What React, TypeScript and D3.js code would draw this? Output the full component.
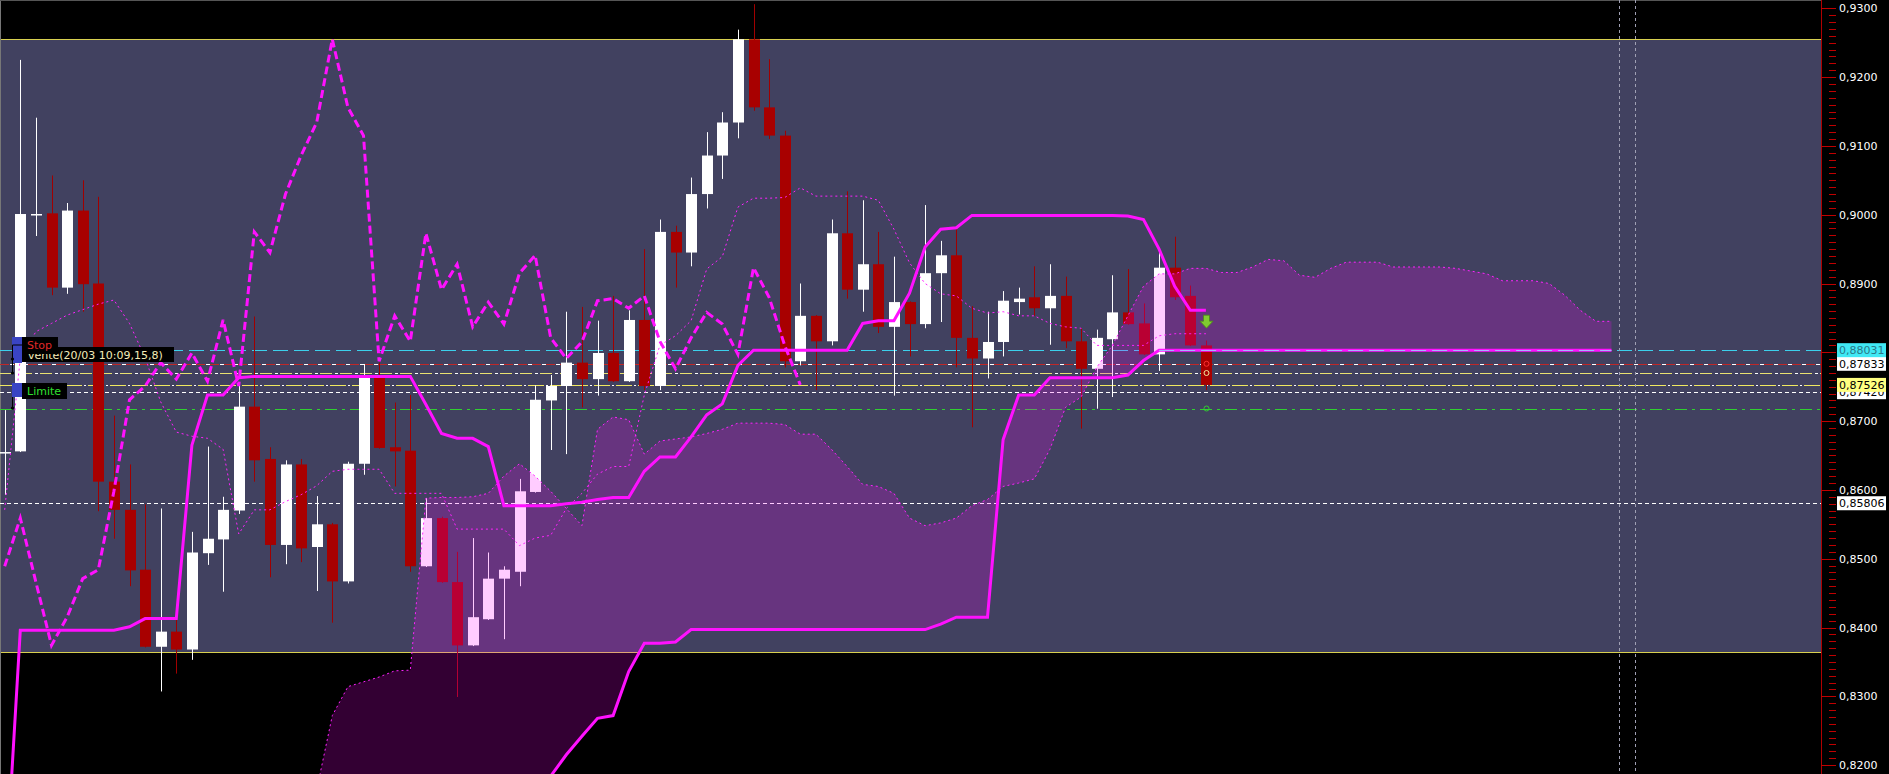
import { useEffect } from 'react';
import * as d3 from 'd3';

const W = 1889;
const H = 774;

// OHLC, one entry per bar (bar 0 is the partly visible one at the left edge)
const opens = [
  0.8654, 0.8656, 0.9000, 0.9002, 0.8894, 0.9006, 0.8900, 0.8612, 0.8571, 0.8484,
  0.8372, 0.8394, 0.8368, 0.8508, 0.8528, 0.8570, 0.8721, 0.8645, 0.8520, 0.8637,
  0.8517, 0.8550, 0.8467, 0.8638, 0.8766, 0.8662, 0.8657, 0.8489, 0.8559, 0.8466,
  0.8374, 0.8412, 0.8471, 0.8481, 0.8597, 0.8730, 0.8751, 0.8785, 0.8761, 0.8799,
  0.8758, 0.8847, 0.8751, 0.8975, 0.8945, 0.9030, 0.9086, 0.9134, 0.9255, 0.9156,
  0.9115, 0.8787, 0.8853, 0.8816, 0.8973, 0.8891, 0.8928, 0.8837, 0.8873, 0.8841,
  0.8915, 0.8941, 0.8821, 0.8791, 0.8815, 0.8873, 0.8880, 0.8864, 0.8882, 0.8816,
  0.8776, 0.8819, 0.8858, 0.8842, 0.8797, 0.8923, 0.8882, 0.8810,
];
const highs = [
  0.8716, 0.9225, 0.9141, 0.9057, 0.9017, 0.9050, 0.9026, 0.8708, 0.8637, 0.8579,
  0.8573, 0.8413, 0.8539, 0.8663, 0.8590, 0.8753, 0.8852, 0.8662, 0.8643, 0.8645,
  0.8591, 0.8552, 0.8641, 0.8783, 0.8785, 0.8727, 0.8738, 0.8588, 0.8561, 0.8510,
  0.8530, 0.8509, 0.8489, 0.8616, 0.8752, 0.8767, 0.8859, 0.8866, 0.8846, 0.8882,
  0.8861, 0.8950, 0.8993, 0.8984, 0.9054, 0.9120, 0.9149, 0.9269, 0.9306, 0.9226,
  0.9122, 0.8900, 0.8854, 0.8993, 0.9034, 0.9021, 0.8975, 0.8939, 0.8874, 0.9014,
  0.8962, 0.8979, 0.8867, 0.8859, 0.8889, 0.8894, 0.8925, 0.8928, 0.8910, 0.8835,
  0.8833, 0.8912, 0.8921, 0.8871, 0.8950, 0.8968, 0.8897, 0.8817,
];
const lows = [
  0.8593, 0.8655, 0.8969, 0.8883, 0.8885, 0.8859, 0.8569, 0.8529, 0.8460, 0.8371,
  0.8307, 0.8333, 0.8353, 0.8491, 0.8452, 0.8565, 0.8612, 0.8473, 0.8492, 0.8495,
  0.8453, 0.8407, 0.8464, 0.8622, 0.8660, 0.8605, 0.8481, 0.8488, 0.8465, 0.8299,
  0.8373, 0.8411, 0.8383, 0.8460, 0.8596, 0.8658, 0.8652, 0.8720, 0.8737, 0.8757,
  0.8757, 0.8745, 0.8745, 0.8894, 0.8925, 0.9009, 0.9052, 0.9111, 0.9151, 0.9110,
  0.8778, 0.8781, 0.8745, 0.8810, 0.8878, 0.8859, 0.8828, 0.8737, 0.8794, 0.8835,
  0.8844, 0.8778, 0.8691, 0.8762, 0.8794, 0.8855, 0.8853, 0.8811, 0.8806, 0.8689,
  0.8718, 0.8735, 0.8840, 0.8796, 0.8773, 0.8876, 0.8809, 0.8745,
];
const closes = [
  0.8655, 0.9001, 0.9001, 0.8894, 0.9006, 0.8899, 0.8612, 0.8571, 0.8483, 0.8372,
  0.8394, 0.8368, 0.8509, 0.8529, 0.8571, 0.8721, 0.8643, 0.8520, 0.8637, 0.8515,
  0.8550, 0.8467, 0.8638, 0.8767, 0.8661, 0.8656, 0.8489, 0.8559, 0.8466, 0.8374,
  0.8415, 0.8471, 0.8484, 0.8598, 0.8731, 0.8751, 0.8785, 0.8761, 0.8799, 0.8758,
  0.8847, 0.8751, 0.8975, 0.8945, 0.9030, 0.9086, 0.9134, 0.9255, 0.9156, 0.9115,
  0.8787, 0.8853, 0.8816, 0.8973, 0.8891, 0.8928, 0.8837, 0.8873, 0.8841, 0.8915,
  0.8941, 0.8821, 0.8791, 0.8815, 0.8875, 0.8878, 0.8864, 0.8882, 0.8816, 0.8776,
  0.8821, 0.8858, 0.8841, 0.8797, 0.8923, 0.8880, 0.8810, 0.87526,
];

// Ichimoku lines
const tenkan = [
  0.8571, 0.8792, 0.8830, 0.8842, 0.8854, 0.8862, 0.8870, 0.8876, 0.8842, 0.8792,
  0.8728, 0.8684, 0.8678, 0.8675, 0.8659, 0.8536, 0.8571, 0.8571, 0.8583, 0.8593,
  0.8606, 0.8627, 0.8630, 0.8630, 0.8630, 0.8595, 0.8595, 0.8595, 0.8595, 0.8543,
  0.8543, 0.8543, 0.8543, 0.8519, 0.8530, 0.8534, 0.8573, 0.8595, 0.8623, 0.8634,
  0.8634, 0.8738, 0.8810, 0.8824, 0.8846, 0.8921, 0.8939, 0.9011, 0.9024, 0.9024,
  0.9025, 0.9039, 0.9027, 0.9027, 0.9027, 0.9027, 0.9021, 0.8979, 0.8930, 0.8900,
  0.8885, 0.8882, 0.8864, 0.8857, 0.8859, 0.8853, 0.8853, 0.8842, 0.8837, 0.8835,
  0.8810, 0.8810, 0.8810, 0.8810, 0.8824, 0.8827, 0.8827, 0.8827,
];
const kijun = [
  0.8013, 0.8396, 0.8396, 0.8396, 0.8396, 0.8396, 0.8396, 0.8396, 0.8401, 0.8413,
  0.8413, 0.8413, 0.8665, 0.8738, 0.8738, 0.8763, 0.8765, 0.8765, 0.8765, 0.8765,
  0.8765, 0.8765, 0.8765, 0.8765, 0.8765, 0.8765, 0.8765, 0.8724, 0.8682, 0.8675,
  0.8675, 0.8663, 0.8577, 0.8577, 0.8577, 0.8577, 0.8580, 0.8582, 0.8586, 0.8589,
  0.8589, 0.8627, 0.8648, 0.8648, 0.8677, 0.8709, 0.8725, 0.8781, 0.8803, 0.8803,
  0.8803, 0.8803, 0.8803, 0.8803, 0.8803, 0.8842, 0.8846, 0.8846, 0.8886, 0.8953,
  0.8979, 0.8981, 0.8999, 0.8999, 0.8999, 0.8999, 0.8999, 0.8999, 0.8999, 0.8999,
  0.8999, 0.8999, 0.8998, 0.8993, 0.8950, 0.8896, 0.8861, 0.8861,
];
// lagging span, starts at bar 0
const chikou = [
  0.8489, 0.8559, 0.8466, 0.8374, 0.8415, 0.8471, 0.8484, 0.8598, 0.8731, 0.8751,
  0.8785, 0.8761, 0.8799, 0.8758, 0.8847, 0.8751, 0.8975, 0.8945, 0.9030, 0.9086,
  0.9134, 0.9255, 0.9156, 0.9115, 0.8787, 0.8853, 0.8816, 0.8973, 0.8891, 0.8928,
  0.8837, 0.8873, 0.8841, 0.8915, 0.8941, 0.8821, 0.8791, 0.8815, 0.8875, 0.8878,
  0.8864, 0.8882, 0.8816, 0.8776, 0.8821, 0.8858, 0.8841, 0.8797, 0.8923, 0.8880,
  0.8810, 0.87526,
];
// leading spans, start at bar cloudStart
const cloudStart = 20;
const senkouA = [
  0.8164, 0.8272, 0.8314, 0.8321, 0.8328, 0.8337, 0.8338, 0.8588, 0.8589, 0.8589,
  0.8590, 0.8595, 0.8620, 0.8638, 0.8620, 0.8598, 0.8573, 0.8548, 0.8688, 0.8706,
  0.8702, 0.8652, 0.8671, 0.8674, 0.8677, 0.8682, 0.8688, 0.8697, 0.8697, 0.8697,
  0.8695, 0.8681, 0.8681, 0.8659, 0.8634, 0.8608, 0.8605, 0.8595, 0.8559, 0.8548,
  0.8552, 0.8559, 0.8577, 0.8586, 0.8605, 0.8610, 0.8616, 0.8659, 0.8720, 0.8735,
  0.8778, 0.8810, 0.8853, 0.8896, 0.8914, 0.8914, 0.8922, 0.8922, 0.8916, 0.8916,
  0.8924, 0.8935, 0.8933, 0.8912, 0.8909, 0.8922, 0.8931, 0.8931, 0.8931, 0.8924,
  0.8924, 0.8924, 0.8924, 0.8922, 0.8918, 0.8914, 0.8904, 0.8904, 0.8904, 0.8900,
  0.8883, 0.8861, 0.8845, 0.8845,
];
const senkouB = [
  0.8120, 0.8120, 0.8120, 0.8120, 0.8120, 0.8120, 0.8120, 0.8120, 0.8120, 0.8120,
  0.8120, 0.8120, 0.8120, 0.8120, 0.8164, 0.8184, 0.8215, 0.8242, 0.8268, 0.8272,
  0.8336, 0.8377, 0.8377, 0.8379, 0.8397, 0.8397, 0.8397, 0.8397, 0.8397, 0.8397,
  0.8397, 0.8397, 0.8397, 0.8397, 0.8397, 0.8397, 0.8397, 0.8397, 0.8397, 0.8397,
  0.8405, 0.8415, 0.8415, 0.8415, 0.8673, 0.8738, 0.8738, 0.8763, 0.8763, 0.8763,
  0.8763, 0.8763, 0.8767, 0.8788, 0.8803, 0.8803, 0.8803, 0.8803, 0.8803, 0.8803,
  0.8803, 0.8803, 0.8803, 0.8803, 0.8803, 0.8803, 0.8803, 0.8803, 0.8803, 0.8803,
  0.8803, 0.8803, 0.8803, 0.8803, 0.8803, 0.8803, 0.8803, 0.8803, 0.8803, 0.8803,
  0.8803, 0.8803, 0.8803, 0.8803,
];

// horizontal levels
const bandTop = 0.92554;
const bandBottom = 0.83644;
const levelCyan = 0.88031;
const levelStop = 0.87833;
const levelOrder = 0.87699;
const levelLast = 0.87526;
const levelWhite = 0.8742;
const levelLimit = 0.87183;
const levelLow = 0.85806;

const markerBars = [103.5, 104.5];
const signalBar = 77;
const signalPrice = 0.8854;
// bars where the flat leading span sits on the cyan level
const flatSpan = [74, 103];

const majorTicks = d3.range(0, 12).map(k => +(0.82 + k * 0.01).toFixed(2));
const minorTicks = d3.range(0, 111).map(k => +(0.82 + k * 0.001).toFixed(3));

const stopText = 'Stop';
const orderText = 'vente(20/03 10:09,15,8)';
const limitText = 'Limite';

const fmt = (v: number, d: number) => v.toFixed(d).replace('.', ',');

export default function App() {
  useEffect(() => {
    document.body.style.margin = '0';
    document.body.style.background = '#000';
  }, []);

  const plotRight = 1821;
  const x = d3.scaleLinear().domain([0, 1]).range([4.7, 20.3]);
  const y = d3.scaleLinear().domain([0.82, 0.93]).range([765.1, 8.3]);
  const font = '"DejaVu Sans", Verdana, sans-serif';

  const lineOf = (vals: number[], start = 0) =>
    d3.line<number>()
      .x((_, i) => x(i + start))
      .y(d => y(d))(vals) || '';

  const cloud = d3.area<number>()
    .x((_, i) => x(i + cloudStart))
    .y0(d => y(d))
    .y1((_, i) => y(senkouB[i]))(senkouA) || '';

  const hLine = (p: number, stroke: string, dash: string, offset = 0, x1 = 0, x2 = plotRight) => (
    <line
      x1={x1}
      x2={x2}
      y1={Math.round(y(p)) + 0.5}
      y2={Math.round(y(p)) + 0.5}
      stroke={stroke}
      strokeDasharray={dash}
      strokeDashoffset={offset}
    />
  );

  const priceTag = (p: number, bg: string, color: string) => {
    const cy = y(p);
    return (
      <g>
        <rect x={1837} y={cy - 7} width={49} height={14} fill={bg} />
        <text x={1839} y={cy + 4} fill={color} fontSize={11} fontFamily={font}>
          {fmt(p, 5)}
        </text>
      </g>
    );
  };

  const sx = Math.round(x(signalBar)) + 0.5;
  const sy = y(signalPrice);

  return (
    <svg width={W} height={H} style={{ position: 'absolute', left: 0, top: 0, display: 'block' }}>
      <rect width={W} height={H} fill="#000" />

      {/* shaded band between the two yellow levels */}
      <rect x={0} y={y(bandTop)} width={plotRight} height={y(bandBottom) - y(bandTop)} fill="#414160" />
      <line x1={0} x2={plotRight} y1={Math.round(y(bandTop)) + 0.5} y2={Math.round(y(bandTop)) + 0.5} stroke="#d8d050" />
      <line x1={0} x2={plotRight} y1={Math.round(y(bandBottom)) + 0.5} y2={Math.round(y(bandBottom)) + 0.5} stroke="#d8d050" />
      <line x1={0.5} x2={0.5} y1={0} y2={H} stroke="#777" />
      <line x1={0} x2={plotRight} y1={0.5} y2={0.5} stroke="#555" />

      {/* order / price levels */}
      {hLine(levelLow, '#ffffff', '4,3')}
      {hLine(levelCyan, '#3cd0ec', '15,6')}
      {hLine(levelStop, '#c02828', '9,5')}
      {hLine(levelStop, '#ffffff', '4,10', -10)}
      {hLine(levelOrder, '#e8e070', '12,8')}
      {hLine(levelOrder, '#ffffff', '3,17', -15)}
      {hLine(levelLast, '#f0e860', '16,6')}
      {hLine(levelLast, '#ffffff', '2,20', -18)}
      {hLine(levelWhite, '#ffffff', '4,3')}
      {hLine(levelLimit, '#30d030', '12,5,3,5')}

      {/* candles */}
      {opens.map((o, i) => {
        const c = closes[i];
        const up = c >= o;
        const cx = Math.round(x(i));
        const top = y(Math.max(o, c));
        const bot = y(Math.min(o, c));
        return (
          <g key={i}>
            <line x1={cx + 0.5} x2={cx + 0.5} y1={y(highs[i])} y2={y(lows[i])} stroke={up ? '#ffffff' : '#a00000'} />
            <rect x={cx - 5} y={top} width={11} height={Math.max(1.5, bot - top)} fill={up ? '#ffffff' : '#a80000'} />
          </g>
        );
      })}

      {/* kumo */}
      <path d={cloud} fill="#ff00ff" fillOpacity={0.2} />
      <path d={lineOf(senkouA, cloudStart)} fill="none" stroke="#ff22ff" strokeWidth={1} strokeDasharray="2,3" />
      <path d={lineOf(senkouB, cloudStart)} fill="none" stroke="#ff11ff" strokeWidth={3} />

      {/* tenkan, kijun, chikou */}
      <path d={lineOf(tenkan)} fill="none" stroke="#ff22ff" strokeWidth={1} strokeDasharray="2,3" />
      <path d={lineOf(kijun)} fill="none" stroke="#ff11ff" strokeWidth={3} />
      <path d={lineOf(chikou)} fill="none" stroke="#ff11ff" strokeWidth={3} strokeDasharray="8,4" />

      {/* cyan level where it runs over the flat span */}
      {hLine(levelCyan, '#a8b4ff', '15,6', 0, x(flatSpan[0]), x(flatSpan[1]))}

      {/* time markers */}
      {markerBars.map(b => (
        <line key={b} x1={Math.round(x(b)) + 0.5} x2={Math.round(x(b)) + 0.5} y1={0} y2={H} stroke="#a0a0b4" strokeDasharray="3,3" />
      ))}

      {/* signal on last bar */}
      <path
        d={`M${sx - 3},${sy} h6 v6 h3.5 l-6.5,7 l-6.5,-7 h3.5 z`}
        fill="#80cc30"
        stroke="#4a8a18"
        strokeWidth={0.8}
      />
      <circle cx={sx} cy={y(levelStop)} r={2.5} fill="none" stroke="#ff3030" />
      <circle cx={sx} cy={y(levelOrder)} r={2.5} fill="none" stroke="#f0e8a0" />
      <circle cx={sx} cy={y(levelLimit)} r={2.5} fill="none" stroke="#30d030" />

      {/* order tags at the left */}
      <g fontFamily={font} fontSize={11}>
        <rect x={22} y={347} width={152} height={15} fill="#000" />
        <text x={28} y={359} fill="#f4ecb8">{orderText}</text>
        <rect x={12} y={337} width={10} height={26} fill="#3a44c4" />
        <rect x={22} y={337} width={36} height={17} fill="#000" />
        <text x={27} y={349} fill="#e02828">{stopText}</text>
        <path d="M12.5,345 H22 M12.5,345 V373" stroke="#000" fill="none" />
        <circle cx={12.5} cy={359} r={1.6} fill="#000" />
        <circle cx={12.5} cy={373} r={1.6} fill="#000" />
        <rect x={12} y={383} width={10} height={14} fill="#3a44c4" />
        <rect x={22} y={383} width={45} height={16} fill="#000" />
        <text x={27} y={395} fill="#30e030">{limitText}</text>
        <path d="M12.5,397 V408" stroke="#000" fill="none" />
        <circle cx={12.5} cy={408} r={1.6} fill="#000" />
      </g>

      {/* price axis */}
      <line x1={plotRight + 0.5} x2={plotRight + 0.5} y1={0} y2={H} stroke="#b00000" />
      {minorTicks.map(t => (
        <line key={t} x1={1829} x2={1836} y1={Math.round(y(t)) + 0.5} y2={Math.round(y(t)) + 0.5} stroke="#c00000" />
      ))}
      {majorTicks.map(t => (
        <g key={t}>
          <line x1={plotRight} x2={1836} y1={Math.round(y(t)) + 0.5} y2={Math.round(y(t)) + 0.5} stroke="#c00000" />
          <text x={1839} y={y(t) + 4} fill="#ffffff" fontSize={11} fontFamily={font}>{fmt(t, 4)}</text>
        </g>
      ))}
      {priceTag(levelLow, '#ffffff', '#000')}
      {priceTag(levelWhite, '#ffffff', '#000')}
      {priceTag(levelLast, '#ffff80', '#000')}
      {priceTag(levelStop, '#ffffff', '#000')}
      {priceTag(levelCyan, '#40e8f4', '#2a7888')}
    </svg>
  );
}
